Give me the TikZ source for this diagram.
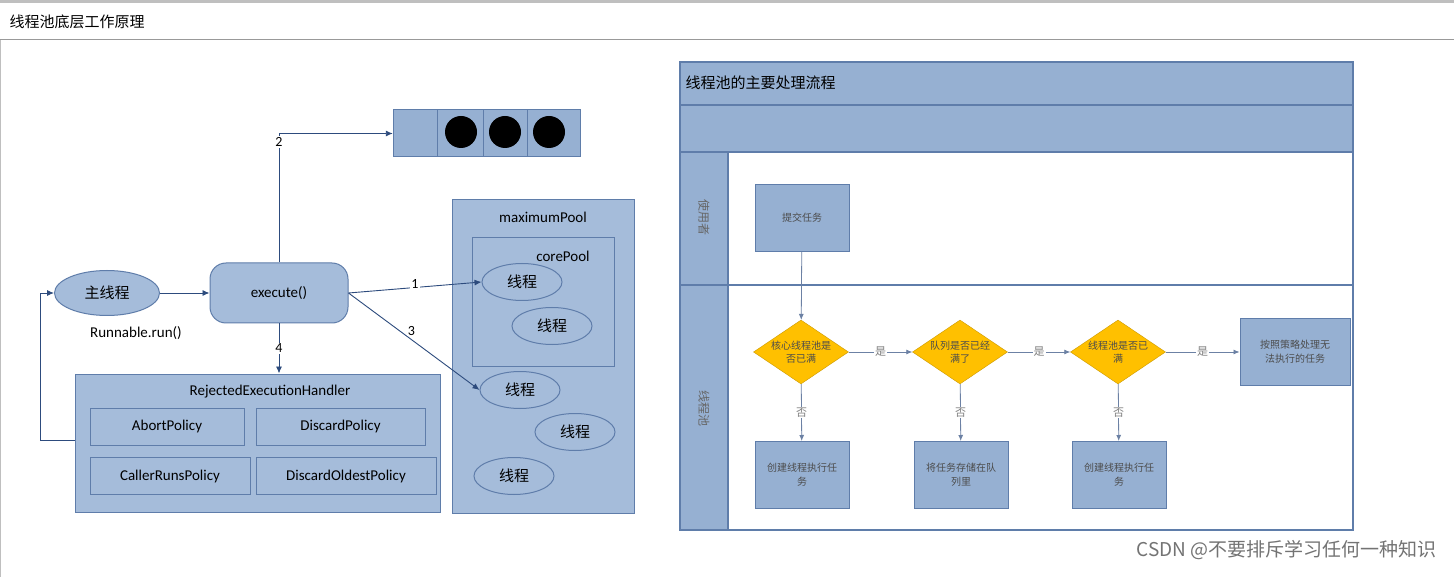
\documentclass[tikz,border=0pt]{standalone}
\usepackage{fontspec}
\setmainfont{Carlito}
\newfontfamily\cjk{Noto Sans CJK SC}
\usetikzlibrary{shapes.geometric,arrows.meta}
\definecolor{bf}{RGB}{150,176,210}
\definecolor{bd}{RGB}{95,125,170}
\definecolor{lf}{RGB}{165,188,218}
\definecolor{ln}{RGB}{45,75,125}
\definecolor{dia}{RGB}{255,192,0}
\tikzset{
 box/.style={draw=bd,fill=bf,line width=1pt},
 pol/.style={draw=bd,fill=lf,line width=1pt,minimum width=#1,minimum height=37pt,font=\fontsize{15}{15}\selectfont},
 th/.style={ellipse,draw=bd,fill=lf,line width=1pt,minimum width=80pt,minimum height=37pt,font=\cjk\fontsize{15}{15}\selectfont},
 arr/.style={draw=ln,line width=0.9pt,-{Latex[length=7pt,width=6pt]}},
 lbl/.style={font=\fontsize{14}{14}\selectfont,fill=white,inner sep=1pt},
 fb/.style={box,minimum width=94pt,minimum height=67pt,align=center,font=\cjk\fontsize{10}{14}\selectfont,text=black!70},
 dm/.style={diamond,aspect=1.5,draw=dia!80!black,fill=dia,minimum width=95pt,minimum height=64pt,inner sep=0pt,align=center,font=\cjk\fontsize{10}{13}\selectfont,text=black!70},
 yn/.style={font=\cjk\fontsize{11}{11}\selectfont,fill=white,text=black!50,inner sep=1pt},
 farr/.style={draw=ln!70,line width=0.8pt,-{Latex[length=6pt,width=5pt]}}
}
\begin{document}
\begin{tikzpicture}[x=1pt,y=-1pt]
\useasboundingbox (0,0) rectangle (1454,577);
\fill[white] (0,0) rectangle (1454,577);
\fill[black!25] (0,0) rectangle (1454,3);
\draw[black!40,line width=1pt] (0,40) -- (1454,40);
\draw[black!25] (0.5,40) -- (0.5,577);
\node[anchor=west,font=\cjk\fontsize{15}{15}\selectfont] (title) at (6,22) {线程池底层工作原理};
% queue
\draw[box] (393,110) rectangle (580,157);
\foreach \x in {437,483,527} \draw[bd,line width=1pt] (\x,110) -- (\x,157);
\node[minimum width=44pt,minimum height=47pt] (q) at (415,133.5) {};
\foreach \x in {461,505,549} \fill[black] (\x,132) circle (16);
% main thread
\node[th,minimum width=105pt,minimum height=45pt] (main) at (107,293) {主线程};
\node[font=\fontsize{15}{15}\selectfont] (rr) at (136,333) {Runnable.run()};
\node[box,rounded corners=16pt,minimum width=138pt,minimum height=60pt,font=\fontsize{15}{15}\selectfont,fill=lf] (ex) at (279,293) {execute()};
% rejected
\node[box,fill=lf,minimum width=365pt,minimum height=138pt] (rej) at (257.5,443) {};
\node[font=\fontsize{15}{15}\selectfont] (rejt) at (270,392) {RejectedExecutionHandler};
\node[pol=154pt] (ab) at (167,427) {AbortPolicy};
\node[pol=169pt] (dp) at (340.5,427) {DiscardPolicy};
\node[pol=160pt] (cr) at (170,476) {CallerRunsPolicy};
\node[pol=180pt] (dop) at (346,476) {DiscardOldestPolicy};
% pools
\node[box,fill=lf,minimum width=182pt,minimum height=313pt] (maxp) at (543,356.5) {};
\node[font=\fontsize{15}{15}\selectfont] (maxl) at (543,217) {maximumPool};
\node[box,fill=lf,minimum width=142pt,minimum height=128pt] (corep) at (543,302) {};
\node[font=\fontsize{15}{15}\selectfont] (corel) at (563,256) {corePool};
\node[th] (t1) at (522,282) {线程};
\node[th] (t2) at (552,326) {线程};
\node[th] (t3) at (520,390) {线程};
\node[th] (t4) at (575,432) {线程};
\node[th] (t5) at (514,476) {线程};
% arrows
\draw[arr] (main) -- (ex);
\draw[arr] (ex.north) -- (ex.north|-q.west) -- (q.west);
\node[lbl] (l2) at (279,142) {2};
\draw[arr] (ex.south) -- (ex.south|-rej.north) node[midway,lbl] {4};
\draw[arr] (ex.east) -- (t1.west) node[pos=0.5,lbl,above=-2pt] {1};
\draw[arr] (ex.east) -- (t3.west) node[pos=0.48,lbl,above=3pt] {3};
\draw[arr] (rej.west|-0,440) -- (40,440) -- (40,293) -- (main.west);
% right panel
\fill[bf] (680,62) rectangle (1353,530);
\fill[white] (728,152) rectangle (1353,530);
\draw[bd,line width=1.2pt] (680,62) rectangle (1353,530);
\draw[bd,line width=1.2pt] (680,105) -- (1353,105);
\draw[bd,line width=1.2pt] (680,152) -- (1353,152);
\draw[bd,line width=1.2pt] (680,285) -- (1353,285);
\draw[bd,line width=1.2pt] (728,152) -- (728,530);
\node[anchor=west,font=\cjk\fontsize{15}{15}\selectfont] (rt) at (682,83) {线程池的主要处理流程};
\node[rotate=-90,font=\cjk\fontsize{12}{12}\selectfont,text=black!60] (u1) at (704,218) {使用者};
\node[rotate=-90,font=\cjk\fontsize{12}{12}\selectfont,text=black!60] (u2) at (704,408) {线程池};
\node[fb] (sub) at (802,218) {提交任务};
\node[dm] (d1) at (801,352) {核心线程池是\\否已满};
\node[dm] (d2) at (960,352) {队列是否已经\\满了};
\node[dm] (d3) at (1118,352) {线程池是否已\\满};
\node[fb,minimum width=110pt] (rj) at (1295,352) {按照策略处理无\\法执行的任务};
\node[fb] (b1) at (802,475) {创建线程执行任\\务};
\node[fb] (b2) at (961,475) {将任务存储在队\\列里};
\node[fb] (b3) at (1119,475) {创建线程执行任\\务};
\draw[farr] (sub) -- (d1);
\draw[farr] (d1) -- (d2) node[midway,yn] {是};
\draw[farr] (d2) -- (d3) node[midway,yn] {是};
\draw[farr] (d3) -- (rj) node[midway,yn] {是};
\draw[farr] (d1) -- (b1) node[midway,yn] {否};
\draw[farr] (d2) -- (b2) node[midway,yn] {否};
\draw[farr] (d3) -- (b3) node[midway,yn] {否};
\node[anchor=east,font=\cjk\fontsize{19}{19}\selectfont,text=black!55] (wm) at (1440,550) {CSDN @不要排斥学习任何一种知识};
\end{tikzpicture}
\end{document}
